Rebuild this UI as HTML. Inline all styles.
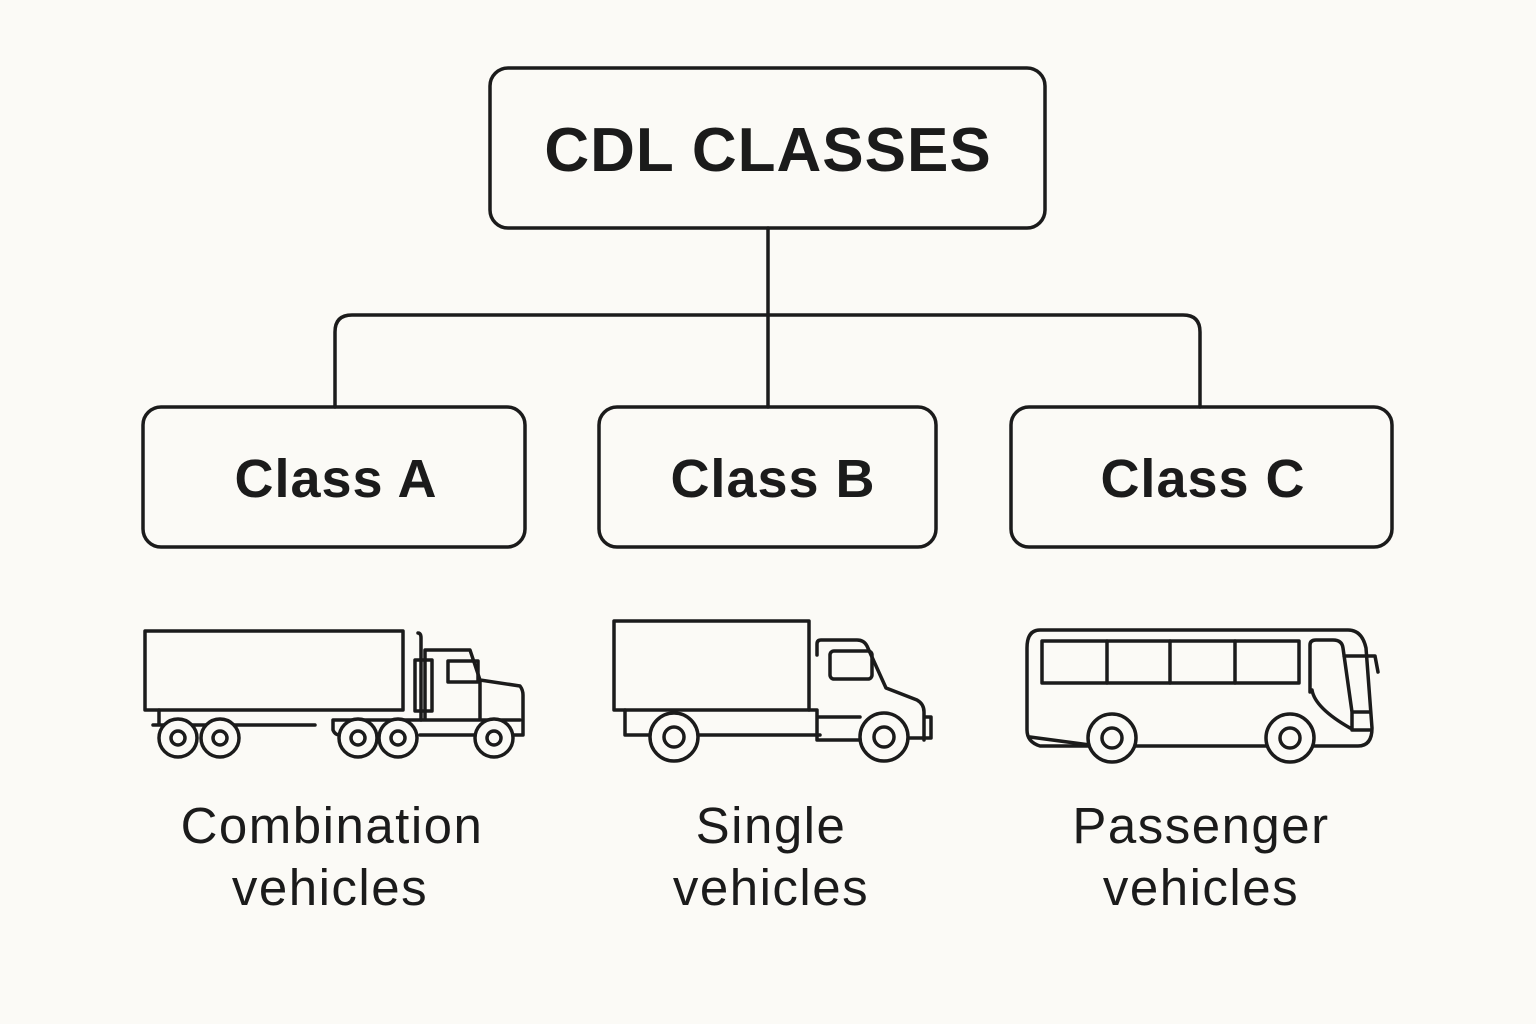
<!DOCTYPE html><html><head><style>body{margin:0;background:#fbfaf6}svg{display:block}</style></head><body>
<svg width="1536" height="1024" viewBox="0 0 1536 1024" xmlns="http://www.w3.org/2000/svg" font-family="Liberation Sans, sans-serif" fill="none" stroke="#1b1b1b" stroke-width="3.5" stroke-linejoin="round" stroke-linecap="round">
<rect width="1536" height="1024" fill="#fbfaf6" stroke="none"/>
<rect x="490" y="68" width="555" height="160" rx="18"/>
<rect x="143" y="407" width="382" height="140" rx="18"/>
<rect x="599" y="407" width="337" height="140" rx="18"/>
<rect x="1011" y="407" width="381" height="140" rx="18"/>
<path d="M768 228V407M335 407V332Q335 315 352 315H1183Q1200 315 1200 332V407"/>
<g fill="#1b1b1b" stroke="none" text-anchor="middle">
<text x="768" y="171" font-size="62" font-weight="bold" letter-spacing="1">CDL CLASSES</text>
<text x="336" y="497" font-size="54" font-weight="bold" letter-spacing="1">Class A</text>
<text x="773" y="497" font-size="54" font-weight="bold" letter-spacing="1">Class B</text>
<text x="1203" y="497" font-size="54" font-weight="bold" letter-spacing="1">Class C</text>
<g font-size="51" letter-spacing="1.5">
<text x="332" y="843">Combination</text>
<text x="330" y="905">vehicles</text>
<text x="771" y="843">Single</text>
<text x="771" y="905">vehicles</text>
<text x="1201" y="843">Passenger</text>
<text x="1201" y="905">vehicles</text>
</g>
</g>
<!-- truck A -->
<rect x="145" y="631" width="258" height="79"/>
<path d="M159 710V725M153 725H315M418 633Q421 633 421 638V710M421 710V720"/>
<rect x="415" y="660" width="17" height="51"/>
<path d="M425 650H470L480 680L520 686Q523 690 523 695V735H505M425 650V720M480 680V720M333 720V730Q335 735 340 735M333 720H520M420 735H475"/>
<rect x="448" y="661" width="30" height="21"/>
<g fill="#fbfaf6"><circle cx="178" cy="738" r="19"/><circle cx="220" cy="738" r="19"/><circle cx="358" cy="738" r="19"/><circle cx="398" cy="738" r="19"/><circle cx="494" cy="738" r="19"/></g>
<circle cx="178" cy="738" r="7"/><circle cx="220" cy="738" r="7"/><circle cx="358" cy="738" r="7"/><circle cx="398" cy="738" r="7"/><circle cx="494" cy="738" r="7"/>
<!-- truck B -->
<rect x="614" y="621" width="195" height="89"/>
<path d="M625 710V735H820M809 710H817V740H860M817 655V644Q817 640 821 640H857Q864 640 867 646L886 688L917 700Q924 704 924 712V740M924 717H931V738H908M817 717H860"/>
<rect x="830" y="651" width="42" height="28" rx="4"/>
<g fill="#fbfaf6"><circle cx="674" cy="737" r="24"/><circle cx="884" cy="737" r="24"/></g>
<circle cx="674" cy="737" r="10"/><circle cx="884" cy="737" r="10"/>
<!-- bus -->
<path d="M1040 630H1348Q1362 630 1366 648L1372 728Q1372 746 1358 746H1040Q1027 742 1027 730V648Q1027 630 1040 630Z"/>
<path d="M1030 737L1090 745"/>
<rect x="1042" y="641" width="257" height="42"/>
<path d="M1107 641V683M1170 641V683M1235 641V683M1310 692V645Q1310 640 1316 640H1333Q1342 640 1343 648L1352 712H1370M1352 712V730H1370M1344 656H1375L1378 672M1312 690Q1315 708 1350 728"/>
<g fill="#fbfaf6"><circle cx="1112" cy="738" r="24"/><circle cx="1290" cy="738" r="24"/></g>
<circle cx="1112" cy="738" r="10"/><circle cx="1290" cy="738" r="10"/>
</svg>
</body></html>
